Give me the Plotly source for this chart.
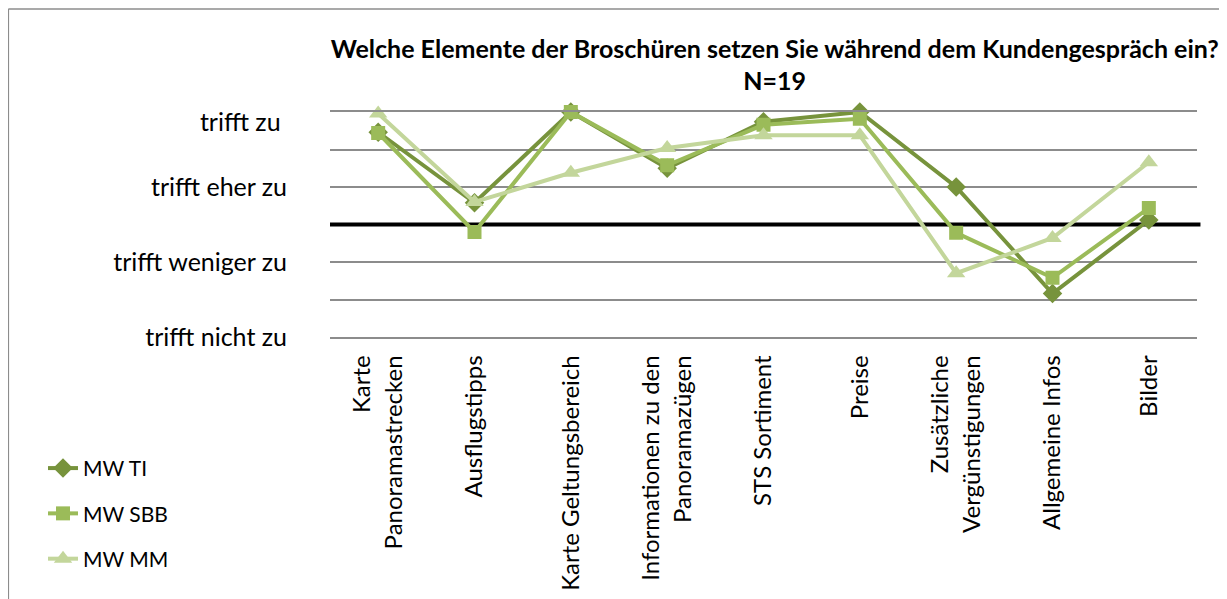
import plotly.graph_objects as go

# ── Data ──────────────────────────────────────────────────────────────────────
CATEGORIES = [
    "Karte<br>Panoramastrecken",
    "Ausflugstipps",
    "Karte Geltungsbereich",
    "Informationen zu den<br>Panoramazügen",
    "STS Sortiment",
    "Preise",
    "Zusätzliche<br>Vergünstigungen",
    "Allgemeine Infos",
    "Bilder",
]
MW_TI  = [3.73, 2.79, 4.00, 3.25, 3.87, 4.00, 3.00, 1.58, 2.56]
MW_SBB = [3.72, 2.40, 4.00, 3.29, 3.83, 3.91, 2.39, 1.79, 2.72]
MW_MM  = [3.98, 2.80, 3.19, 3.52, 3.69, 3.69, 1.85, 2.32, 3.33]

SCALE_VALS   = [1, 2, 3, 3.87]
SCALE_LABELS = ["trifft nicht zu", "trifft weniger zu", "trifft eher zu", "trifft zu "]
GRID_VALS    = [1.5, 2, 3, 3.5]
THRESHOLD    = 2.5

TITLE = "Welche Elemente der Broschüren setzen Sie während dem Kundengespräch ein?<br>N=19"

# ── Colours ───────────────────────────────────────────────────────────────────
DARK_GREEN  = "#77933c"
MID_GREEN   = "#9bbb59"
LIGHT_GREEN = "#c3d69b"
GRID_GREY   = "#8c8c8c"
FONT        = "Lato"

fig = go.Figure()

series = [
    ("MW TI",  MW_TI,  DARK_GREEN,  "diamond",      15),
    ("MW SBB", MW_SBB, MID_GREEN,   "square",       14),
    ("MW MM",  MW_MM,  LIGHT_GREEN, "triangle-up",  16),
]
for name, vals, col, sym, size in series:
    fig.add_trace(go.Scatter(
        x=CATEGORIES, y=vals,
        name=name,
        legendgroup=name,
        mode="lines+markers",
        line=dict(color=col, width=4),
        marker=dict(symbol=sym, size=size, color=col),
        cliponaxis=False,
    ))

# invisible carrier so the label axis (y2) gets drawn
fig.add_trace(go.Scatter(
    x=[CATEGORIES[0]] * len(SCALE_VALS), y=SCALE_VALS, yaxis="y2",
    mode="markers", marker=dict(opacity=0), showlegend=False, hoverinfo="skip",
))

# thick black reference line
fig.add_shape(type="line", xref="paper", yref="y",
              x0=0, x1=1.004, y0=THRESHOLD, y1=THRESHOLD,
              line=dict(color="black", width=4), layer="below")

# outer frame (top + left edge)
fig.add_shape(type="line", xref="paper", yref="paper",
              x0=-0.371, x1=1.2, y0=1.458, y1=1.458,
              line=dict(color="#8c8c8c", width=1.5))
fig.add_shape(type="line", xref="paper", yref="paper",
              x0=-0.371, x1=-0.371, y0=1.458, y1=-1.3,
              line=dict(color="#8c8c8c", width=1.5))

# page body adds an 8px offset, so the figure is 8px smaller than the window
fig.update_layout(
    width=1219, height=591,
    plot_bgcolor="white", paper_bgcolor="white",
    font=dict(family=FONT, size=24, color="black"),
    margin=dict(l=322, r=30, t=104, b=262),
    title=dict(text=TITLE, x=0.629, xanchor="center", y=0.916, yanchor="middle",
               xref="container", yref="container",
               font=dict(family=FONT, size=25, color="black", weight="bold")),
    showlegend=True,
    legend=dict(x=-0.331, y=-0.493, xanchor="left", yanchor="top",
                tracegroupgap=15, font=dict(size=21),
                bgcolor="rgba(0,0,0,0)"),
    xaxis=dict(type="category", range=[-0.5, 8.5], showgrid=False,
               showline=True, mirror=True, linecolor=GRID_GREY, linewidth=1.5,
               zeroline=False, tickangle=-90,
               ticks="", ticklabelstandoff=7, automargin=False,
               tickfont=dict(size=24)),
    yaxis=dict(range=[1, 4], tickvals=GRID_VALS, showticklabels=False,
               showgrid=True, gridcolor=GRID_GREY, gridwidth=1.5, automargin=False,
               zeroline=False, showline=False, ticks="", fixedrange=True),
    yaxis2=dict(range=[1, 4], overlaying="y", side="left",
                tickvals=SCALE_VALS, ticktext=SCALE_LABELS, automargin=False,
                showgrid=False, zeroline=False, showline=False, ticks="",
                ticklabelstandoff=42, tickfont=dict(size=25)),
)

fig.write_html("out.html")
